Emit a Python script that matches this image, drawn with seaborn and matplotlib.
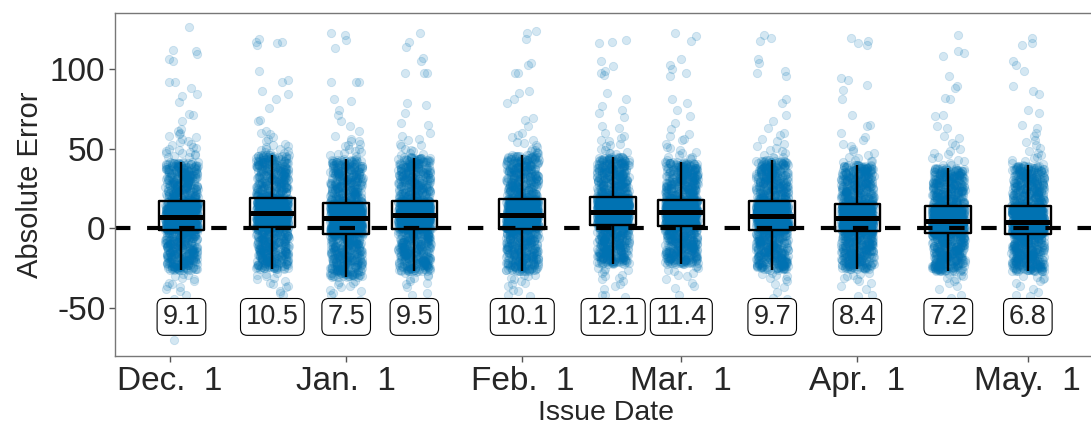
import numpy as np
import matplotlib
matplotlib.use('Agg')
import matplotlib.pyplot as plt
import pandas as pd
import seaborn as sns

# issue dates as days after Dec. 1
issue_day = [2, 18, 31, 43, 62, 78, 90, 106, 121, 137, 151]

# box statistics
whisk_lo = [-26.3, -25.5, -30.5, -27.0, -27.0, -22.3, -22.3, -25.9, -25.5, -27.0, -27.0]
q1 = [-1.0, 0.6, -3.5, -0.4, -0.4, 2.1, 1.5, -0.8, -1.7, -2.9, -3.5]
median = [7.3, 9.4, 6.3, 8.2, 8.2, 10.5, 10.3, 8.0, 6.3, 4.6, 4.0]
q3 = [16.9, 19.1, 15.9, 17.4, 18.4, 19.7, 17.8, 16.9, 15.3, 13.8, 13.8]
whisk_hi = [41.6, 46.2, 43.3, 44.5, 46.0, 44.8, 41.6, 42.7, 40.0, 37.9, 39.5]

# single points outside the whiskers
out_hi = [
    [126, 112, 111, 109, 106, 105, 92, 92, 88, 84, 83, 79, 72, 71, 67, 62, 61, 60, 59, 58, 57, 56, 55, 54, 53, 52,
     51, 50.5, 50, 49, 48.5, 48, 47.5, 47, 46.5, 46, 45.5, 45, 44.5],
    [119, 117, 117, 116, 115, 98.5, 93, 92, 86, 84, 81, 75.5, 68, 67, 61, 60, 59, 57, 56, 55, 53, 52, 51.5, 51,
     50, 49.5, 49, 48.5, 48, 47.5, 47.5],
    [122.6, 121.5, 118, 113, 92, 92, 92, 81, 80, 74.5, 71, 67, 64, 61, 58, 56, 55, 54.6, 53, 52, 51.5, 50, 49.5,
     48.5, 48, 47, 46.5, 46, 45.5],
    [122.6, 117, 114, 107, 105, 97.5, 97.5, 97.5, 78.7, 77.6, 72.4, 66, 65, 60, 58, 56, 55.6, 53, 52.5, 51.5, 50,
     49, 48.3, 47, 46.5, 46, 45, 44.5],
    [123.6, 122.6, 118.4, 103.8, 102.7, 97.5, 97.5, 86, 85, 80.8, 78.7, 69, 68, 64, 60, 58.8, 57, 55.6, 54, 53.6,
     52, 51, 50, 49.4, 48.5, 48, 47.5, 47],
    [118, 117, 116, 105, 101.7, 98.5, 97.5, 96.4, 85, 80.8, 76.6, 74.5, 72.4, 70, 64, 63, 60, 58, 56.7, 55.5,
     54.6, 53, 52.5, 51.5, 50, 49, 48, 47.5, 47.3, 46.5],
    [122.6, 120.5, 117.4, 105.9, 102.7, 99.6, 97.5, 95.4, 80.8, 78.7, 74.5, 70.3, 66, 62, 59, 57.7, 56, 55.6, 53,
     51, 50.4, 49, 48, 47.3, 46, 45, 44.5, 44, 43.5, 43],
    [121.5, 119.5, 117.4, 105.9, 103.8, 98.5, 97.5, 95.4, 80.8, 78.7, 71.3, 67, 63, 60, 58.8, 56, 54.6, 53, 51.5,
     50.4, 49, 48.3, 47, 46, 45, 44.5, 44],
    [119.5, 117.4, 116.3, 115, 94.4, 93.3, 90, 87, 80.8, 71.3, 65, 64, 59.8, 57, 55.6, 53, 51.5, 50, 48.5, 47.3,
     46, 45, 44, 43, 42.5, 42, 41.5],
    [121.5, 111, 110, 108, 95.4, 89, 88, 81.8, 80.8, 71.3, 70.3, 64, 63, 58, 56.7, 53.6, 52, 50, 48.3, 47, 46.5,
     45, 44, 43, 42, 41, 40, 39.5],
    [119.5, 116.3, 115, 104.8, 102.7, 98.5, 89, 86, 84, 74.5, 72.4, 65, 63, 60, 57.7, 55.6, 54, 52, 50.4, 48.5,
     47.3, 46, 45, 44, 43, 42, 41, 40.5],
]
out_lo = [
    [-28.5, -29, -30, -31, -32, -33, -34, -35, -36, -37, -38, -39, -42, -44, -46, -49, -53, -64, -70],
    [-28, -28.5, -29, -30, -31, -32, -33, -34, -35, -36, -37, -39.5, -40.6, -42],
    [-33, -33.5, -34, -35, -36, -37, -38.5, -39.5, -40.6, -41.6, -44.8],
    [-27.5, -28, -29, -30, -31, -32, -33, -34, -35, -37, -40.6, -41.6],
    [-29, -29.5, -30, -31, -32, -33, -34, -35, -36, -38.5, -39.5, -41.6, -42.7],
    [-25, -25.5, -26, -27, -28, -29, -30, -31, -32, -33, -35, -36, -38, -41.6, -41.6, -43],
    [-23.5, -24, -25, -26, -27, -28, -29, -30, -32, -34, -36, -37.5, -41.6, -53],
    [-28, -28.5, -29, -30, -31, -32, -33, -35, -37, -40, -43.7, -44],
    [-28, -28.5, -29, -30, -31, -32, -33, -34, -36, -38, -41.6, -42.7],
    [-28.5, -29, -30, -31, -32, -33, -34, -36, -38, -41.6, -43.7, -56],
    [-30, -30.5, -31, -32, -33, -34, -36, -38, -40, -41.6, -42.7, -56],
]

# labels in the boxes below
mean_label = ['9.1', '10.5', '7.5', '9.5', '10.1', '12.1', '11.4', '9.7', '8.4', '7.2', '6.8']

tick_day = [0, 31, 62, 90, 121, 151]
tick_label = ['Dec.  1', 'Jan.  1', 'Feb.  1', 'Mar.  1', 'Apr.  1', 'May.  1']

# build the point cloud of each date from its quartiles
n_body = 1200
rows = []
for i, d in enumerate(issue_day):
    n_lo, n_hi = len(out_lo[i]), len(out_hi[i])
    n_all = n_lo + n_body + n_hi
    lev = [(a * (n_all - 1) - n_lo) / (n_body - 1) for a in (0.25, 0.5, 0.75)]
    body = np.interp(np.linspace(0, 1, n_body), [0] + lev + [1],
                     [whisk_lo[i], q1[i], median[i], q3[i], whisk_hi[i]])
    for v in list(out_lo[i]) + list(body) + list(out_hi[i]):
        rows.append((d, v))
df = pd.DataFrame(rows, columns=['day', 'err'])

sns.set_style('white')
plt.rcParams['font.family'] = ['Liberation Sans', 'DejaVu Sans']

fig = plt.figure(figsize=(10.91, 4.32), dpi=100)
ax = fig.add_axes([115 / 1091, 76 / 432, 981 / 1091, 343 / 432])

np.random.seed(3)
sns.stripplot(data=df, x='day', y='err', native_scale=True, orient='x',
              jitter=0.24, color='#0072B2', alpha=0.17, size=6.0,
              linewidth=0.6, edgecolor='#0072B2', ax=ax, zorder=1)

ax.axhline(0, color='black', lw=3.0, ls=(0, (3.7, 4.0)), zorder=2)

sns.boxplot(data=df, x='day', y='err', native_scale=True, orient='x',
            width=0.67, fill=False, color='black', linewidth=1.7,
            showfliers=False, showcaps=False,
            medianprops={'linewidth': 3.6}, ax=ax, zorder=3)

for d, lab in zip(issue_day, mean_label):
    ax.text(d, -55.5, lab, ha='center', va='center', fontsize=19.5, zorder=5,
            bbox=dict(boxstyle='round,pad=0.2,rounding_size=0.25',
                      fc='white', ec='black', lw=0.8))

ax.set_xlim(-9.7, 163)
ax.set_ylim(-80, 135)
ax.set_xticks(tick_day)
ax.set_xticklabels(tick_label)
ax.set_yticks([-50, 0, 50, 100])
ax.set_yticklabels(['-50', '0', '50', '100'])
ax.tick_params(axis='both', labelsize=24, length=4, width=1,
               color='#555555', pad=3, bottom=True, left=True)

ax.set_xlabel('Issue Date', fontsize=20.5, labelpad=2)
ax.set_ylabel('Absolute Error', fontsize=21, labelpad=4)

for s in ax.spines.values():
    s.set_color('#777777')
    s.set_linewidth(1)

fig.savefig('out.png', dpi=100)
